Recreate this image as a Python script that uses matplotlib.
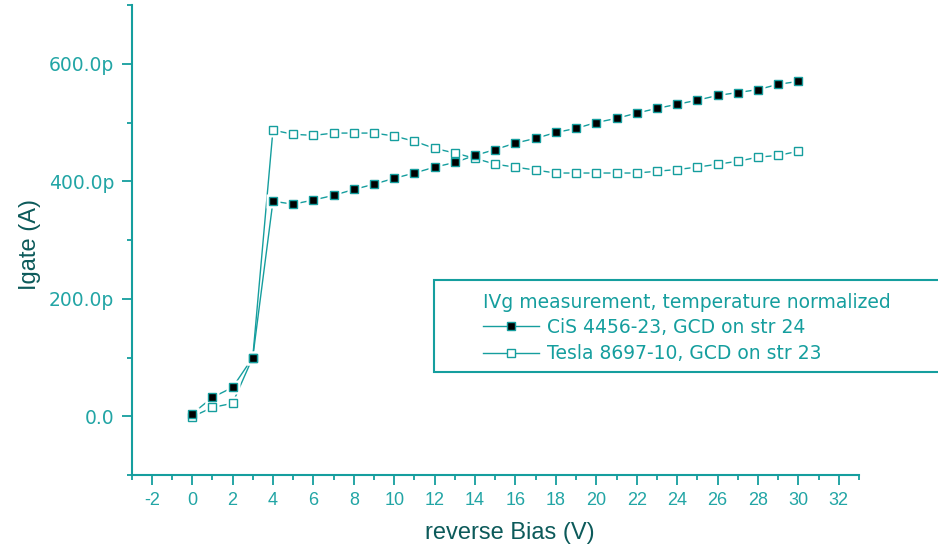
import matplotlib
matplotlib.use('Agg')
import matplotlib.pyplot as plt
from matplotlib.ticker import MultipleLocator, FixedLocator, FuncFormatter
from matplotlib.patches import Rectangle

plt.rcParams['axes.unicode_minus'] = False

# ---- data ----
bias_v = list(range(0, 31))
cis_pA = [4, 32, 49, 100, 366, 361, 368, 376, 386, 395,
          405, 414, 424, 432, 444, 454, 465, 473, 483, 490,
          500, 507, 516, 524, 531, 538, 546, 551, 556, 565, 570]
tesla_pA = [-1, 15, 22, 100, 487, 480, 478, 482, 482, 482,
            477, 468, 456, 448, 439, 429, 424, 419, 414, 414,
            414, 414, 414, 417, 420, 424, 429, 434, 441, 444, 451]
cis_label = "CiS 4456-23, GCD on str 24"
tesla_label = "Tesla 8697-10, GCD on str 23"
legend_title = "IVg measurement, temperature normalized"
x_major = [-2, 0, 2, 4, 6, 8, 10, 12, 14, 16, 18, 20, 22, 24, 26, 28, 30, 32]
y_major = [0, 200, 400, 600]

TEAL = '#159e9e'
TICKTXT = '#22a5a5'
DARK = '#0c5a5a'

W, H = 938, 555
fig = plt.figure(figsize=(W / 100, H / 100), dpi=100)
ax = fig.add_axes([131.5 / W, 80 / H, 727.5 / W, 470 / H])

for vals in [cis_pA, tesla_pA]:
    ax.plot(bias_v, vals, color=TEAL, lw=1.0, zorder=1)
for vals in [cis_pA, tesla_pA]:
    ax.plot(bias_v, vals, ls='none', marker='s', ms=10.5, mfc='white', mec='none', zorder=2)
l1, = ax.plot(bias_v, cis_pA, color=TEAL, lw=1.0, ls='none', marker='s', ms=6,
              mfc='black', mec=TEAL, mew=1.0, zorder=4, label=cis_label)
l2, = ax.plot(bias_v, tesla_pA, color=TEAL, lw=1.0, ls='none', marker='s', ms=6,
              mfc='white', mec=TEAL, mew=1.0, zorder=3, label=tesla_label)

ax.set_xlim(-3, 33)
ax.set_ylim(-100, 700)

for s in ['top', 'right']:
    ax.spines[s].set_visible(False)
for s in ['left', 'bottom']:
    ax.spines[s].set_color(TEAL)
    ax.spines[s].set_linewidth(1.5)

ax.xaxis.set_major_locator(FixedLocator(x_major))
ax.xaxis.set_minor_locator(MultipleLocator(1))
ax.yaxis.set_major_locator(FixedLocator(y_major))
ax.yaxis.set_minor_locator(MultipleLocator(100))
ax.xaxis.set_major_formatter(FuncFormatter(lambda v, p: f'{int(v)}'))
ax.yaxis.set_major_formatter(FuncFormatter(lambda v, p: '0.0' if v == 0 else f'{v:.1f}p'))

ax.tick_params(axis='both', which='both', direction='out', color=TEAL, width=1.3)
ax.tick_params(axis='both', which='major', length=7.5)
ax.tick_params(axis='both', which='minor', length=3.5)
ax.tick_params(axis='x', which='major', pad=5, labelcolor=TICKTXT)
ax.tick_params(axis='y', which='major', pad=5, labelcolor=TICKTXT)
for t in ax.get_xticklabels():
    t.set_fontfamily('Liberation Sans')
    t.set_fontsize(13)
for t in ax.get_yticklabels():
    t.set_fontfamily('DejaVu Sans')
    t.set_fontsize(13.5)

ax.set_xlabel('reverse Bias (V)', fontsize=17, family='Liberation Sans', color=DARK)
ax.set_ylabel('Igate (A)', fontsize=17, family='Liberation Sans', color=DARK)
ax.xaxis.set_label_coords((510 - 131.5) / 727.5, (475 - 522) / 470)
ax.yaxis.set_label_coords((41 - 131.5) / 727.5, (475 - 245) / 470)

# legend frame (extends past the right edge of the figure, as in the reference)
frame = Rectangle((434 / W, 1 - 372 / H), 0.6, (372 - 280) / H, transform=fig.transFigure,
                  fill=True, facecolor='white', edgecolor=TEAL, lw=1.5, zorder=5, clip_on=False)
fig.add_artist(frame)

leg = fig.legend(handles=[l1, l2], labels=[cis_label, tesla_label], title=legend_title,
                 bbox_to_anchor=(483 / W, 1 - 293 / H), bbox_transform=fig.transFigure,
                 loc='upper left', alignment='left', frameon=False,
                 prop={'family': 'DejaVu Sans', 'size': 13.5},
                 title_fontproperties={'family': 'DejaVu Sans', 'size': 13.5},
                 labelcolor=TEAL, handlelength=3.0, handletextpad=0.4,
                 borderpad=0, borderaxespad=0, labelspacing=0.42, numpoints=1)
leg.set_zorder(6)
leg.get_title().set_color(TEAL)
leg._legend_box.sep = 4
for h in leg.legend_handles:
    h.set_linestyle('-')
    h.set_markersize(6)

fig.savefig('out.png', dpi=100)
